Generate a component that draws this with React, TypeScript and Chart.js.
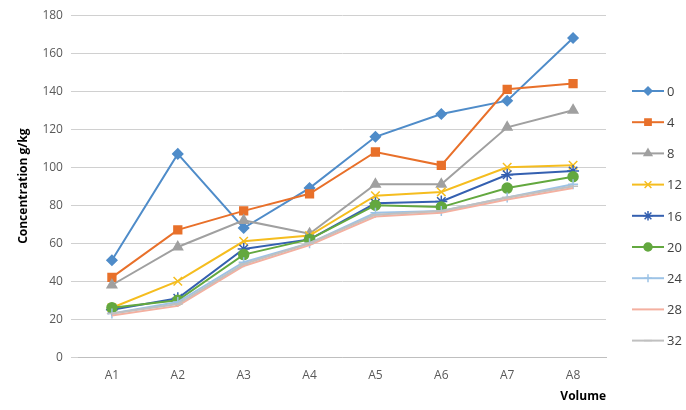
import { useEffect, useRef } from 'react';
import { Chart, registerables } from 'chart.js';
import { drawPoint } from 'chart.js/helpers';

Chart.register(...registerables);

const categories = ['A1', 'A2', 'A3', 'A4', 'A5', 'A6', 'A7', 'A8'];
const seriesNames = ['0', '4', '8', '12', '16', '20', '24', '28', '32'];
const s0 = [51, 107, 68, 89, 116, 128, 135, 168];
const s4 = [42, 67, 77, 86, 108, 101, 141, 144];
const s8 = [38, 58, 72, 65, 91, 91, 121, 130];
const s12 = [26, 40, 61, 64, 85, 87, 100, 101];
const s16 = [25, 31, 57, 62, 81, 82, 96, 98];
const s20 = [26, 30, 54, 62, 80, 79, 89, 95];
const s24 = [23, 29, 50, 60, 76, 77, 84, 91];
const s28 = [22, 27, 48, 59, 74, 76, 83, 89];
const s32 = [23, 28, 49, 60, 75, 77, 84, 90];
const allSeries = [s0, s4, s8, s12, s16, s20, s24, s28, s32];

const colors = ['#4f8cc9', '#e8702a', '#a0a0a0', '#f5bd1f', '#3560b0', '#63a83f', '#9dc3e6', '#f4b0a0', '#c0c0c0'];
const styles: any[] = ['rectRot', 'rect', 'triangle', 'crossRot', 'star', 'circle', 'cross', false, 'line'];
const radii = [5, 5.5, 5.5, 6, 6, 5, 5, 0, 5];

const legendPlugin = {
  id: 'sideLegend',
  afterDraw(chart: any) {
    const ctx = chart.ctx;
    ctx.save();
    chart.data.datasets.forEach((ds: any, i: number) => {
      const y = 91 + i * 31.2;
      const x0 = 632, x1 = 664;
      ctx.strokeStyle = ds.borderColor;
      ctx.lineWidth = 2;
      ctx.beginPath();
      ctx.moveTo(x0, y);
      ctx.lineTo(x1, y);
      ctx.stroke();
      if (ds.pointStyle) {
        ctx.fillStyle = ds.borderColor;
        ctx.strokeStyle = ds.borderColor;
        ctx.lineWidth = 1.5;
        drawPoint(ctx, { pointStyle: ds.pointStyle, radius: ds.pointRadius * 0.8, rotation: 0, borderWidth: 1.5 }, (x0 + x1) / 2, y);
      }
      ctx.fillStyle = '#404040';
      ctx.font = '13px "Open Sans", sans-serif';
      ctx.textBaseline = 'middle';
      ctx.fillText(ds.label, 667, y + 1);
    });
    ctx.restore();
  },
};

export default function App() {
  const ref = useRef<HTMLCanvasElement>(null);

  useEffect(() => {
    if (!ref.current) return;
    const chart = new Chart(ref.current, {
      type: 'line',
      data: {
        labels: categories,
        datasets: allSeries.map((d, i) => ({
          label: seriesNames[i],
          data: d,
          borderColor: colors[i],
          backgroundColor: colors[i],
          borderWidth: 2,
          pointStyle: styles[i],
          pointRadius: radii[i],
          pointBorderWidth: 1.5,
          tension: 0,
          order: 9 - i,
        })),
      },
      options: {
        animation: false,
        responsive: true,
        maintainAspectRatio: false,
        layout: { padding: { top: 14, right: 80, left: 12, bottom: 2 } },
        plugins: { legend: { display: false }, tooltip: { enabled: false } },
        scales: {
          x: {
            offset: true,
            grid: { display: false },
            border: { color: '#bfbfbf' },
            ticks: { color: '#595959', font: { size: 12, family: '"Open Sans", sans-serif' } },
            title: { display: true, text: 'Volume', align: 'end', color: '#000', font: { size: 12, weight: 'bold', family: '"Open Sans", sans-serif' } },
          },
          y: {
            min: 0,
            max: 180,
            ticks: { stepSize: 20, padding: 8, color: '#595959', font: { size: 12, family: '"Open Sans", sans-serif' } },
            grid: { color: '#d0d0d0' },
            border: { display: false },
            title: { display: true, text: 'Concentration g/kg', color: '#000', font: { size: 12, weight: 'bold', family: '"Open Sans", sans-serif' } },
          },
        },
      },
      plugins: [legendPlugin],
    });
    return () => chart.destroy();
  }, []);

  return (
    <div style={{ position: 'fixed', left: 0, top: 0, width: 686, height: 410, background: '#fff' }}>
      <canvas ref={ref} />
    </div>
  );
}
